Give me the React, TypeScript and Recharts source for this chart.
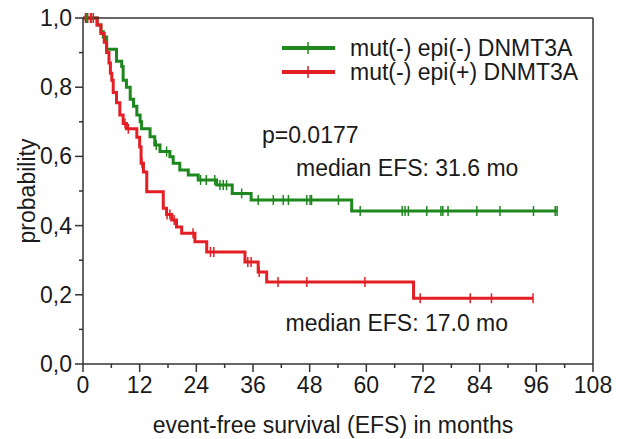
import { LineChart, Line, XAxis, YAxis, ReferenceDot } from 'recharts';

// months, bottom axis (minor ticks every 6, labels every 12)
const xTicks = [0, 6, 12, 18, 24, 30, 36, 42, 48, 54, 60, 66, 72, 78, 84, 90, 96, 102, 108];
const yTicks = [0, 0.1, 0.2, 0.3, 0.4, 0.5, 0.6, 0.7, 0.8, 0.9, 1.0];

// mut(-) epi(-) DNMT3A
const greenEventTimes = [3.0, 3.8, 4.3, 5.0, 7.1, 8.2, 8.5, 9.2, 10.0, 10.7, 11.4, 12.1, 12.4, 14.2, 15.2, 16.3, 18.4, 19.1, 20.5, 22.3, 24.4, 28.3, 31.6, 35.6, 56.9];
const greenSurvival = [0.98, 0.96, 0.945, 0.91, 0.875, 0.86, 0.82, 0.8, 0.765, 0.745, 0.72, 0.7, 0.68, 0.657, 0.633, 0.614, 0.599, 0.58, 0.561, 0.546, 0.532, 0.517, 0.493, 0.474, 0.442];
const greenCensorTimes = [0.8, 1.8, 15.5, 17.7, 24.9, 26.1, 27.9, 29.0, 29.7, 30.4, 33.6, 37.1, 40.3, 42.4, 43.5, 47.4, 48.1, 48.4, 54.1, 58.7, 67.6, 68.2, 68.9, 72.8, 75.8, 76.2, 77.3, 83.4, 88.3, 95.4, 100.0, 100.4];

// mut(-) epi(+) DNMT3A
const redEventTimes = [3.0, 3.8, 4.5, 5.0, 5.5, 5.8, 6.1, 6.4, 7.1, 7.8, 8.5, 9.2, 11.4, 12.0, 12.3, 12.8, 13.5, 17.0, 17.7, 18.8, 19.8, 20.9, 23.7, 26.2, 34.3, 37.1, 38.9, 70.0];
const redSurvival = [0.98, 0.955, 0.93, 0.9, 0.87, 0.84, 0.82, 0.785, 0.755, 0.72, 0.695, 0.68, 0.655, 0.627, 0.58, 0.555, 0.498, 0.45, 0.432, 0.416, 0.396, 0.378, 0.353, 0.324, 0.295, 0.266, 0.237, 0.19];
const redCensorTimes = [0.5, 1.0, 1.6, 2.2, 8.9, 9.6, 12.5, 17.8, 18.4, 19.3, 23.3, 27.0, 27.7, 34.9, 35.6, 37.3, 41.3, 47.4, 59.7, 71.4, 82.0, 86.5, 95.3];

const GREEN = '#1e871e';
const RED = '#e31e24';
const AXIS = '#333';
const TEXT = '#1a1a1a';
const FS = 23;

// build step curve points (event drops + censor marks sitting on the current level)
function buildCurve(times: number[], surv: number[], censors: number[]) {
  const pts: { t: number; s: number; c?: boolean }[] = [{ t: 0, s: 1 }];
  times.forEach((t, i) => pts.push({ t, s: surv[i] }));
  censors.forEach((t) => {
    let s = 1;
    times.forEach((et, i) => {
      if (et <= t) s = surv[i];
    });
    pts.push({ t, s, c: true });
  });
  return pts.sort((a, b) => a.t - b.t);
}

const greenData = buildCurve(greenEventTimes, greenSurvival, greenCensorTimes);
const redData = buildCurve(redEventTimes, redSurvival, redCensorTimes);

const censorDot = (color: string) => (props: any) => {
  const { cx, cy, payload, index } = props;
  if (!payload?.c) return <g key={index} />;
  return <line key={index} x1={cx} x2={cx} y1={cy - 5} y2={cy + 5} stroke={color} strokeWidth={1.5} />;
};

const isMajorX = (v: number) => v % 12 === 0;
const isMajorY = (v: number) => Math.round(v * 10) % 2 === 0;

const BottomTick = (props: any) => {
  const { x, y, payload } = props;
  const major = isMajorX(payload.value);
  return (
    <g>
      <line x1={x} x2={x} y1={y} y2={y + (major ? 8 : 4)} stroke={AXIS} strokeWidth={1.5} />
      {major && (
        <text x={x} y={y + 29} textAnchor="middle" fontSize={FS} fill={TEXT}>
          {payload.value}
        </text>
      )}
    </g>
  );
};

const TopTick = (props: any) => {
  const { x, y, payload } = props;
  const major = isMajorX(payload.value);
  return <line x1={x} x2={x} y1={y} y2={y + (major ? 8 : 4)} stroke={AXIS} strokeWidth={1.5} />;
};

const LeftTick = (props: any) => {
  const { x, y, payload } = props;
  const major = isMajorY(payload.value);
  return (
    <g>
      <line x1={x - (major ? 8 : 4)} x2={x} y1={y} y2={y} stroke={AXIS} strokeWidth={1.5} />
      {major && (
        <text x={x - 11} y={y + 8} textAnchor="end" fontSize={FS} fill={TEXT}>
          {payload.value.toFixed(1).replace('.', ',')}
        </text>
      )}
    </g>
  );
};

const RightTick = (props: any) => {
  const { x, y, payload } = props;
  const major = isMajorY(payload.value);
  return <line x1={x - (major ? 8 : 4)} x2={x} y1={y} y2={y} stroke={AXIS} strokeWidth={1.5} />;
};

const legendItems = [
  { name: 'mut(-) epi(-) DNMT3A', color: GREEN },
  { name: 'mut(-) epi(+) DNMT3A', color: RED },
];

export default function App() {
  return (
    <div
      style={{
        position: 'absolute',
        left: 0,
        top: 0,
        width: 625,
        height: 439,
        background: '#fff',
        fontFamily: '"Liberation Sans", Arial, sans-serif',
      }}
    >
      <LineChart width={625} height={439} margin={{ top: 0, right: 0, bottom: 0, left: 0 }}>
        <XAxis
          dataKey="t"
          type="number"
          domain={[0, 108]}
          ticks={xTicks}
          interval={0}
          height={75}
          tickSize={0}
          tickMargin={0}
          tick={BottomTick}
          axisLine={{ stroke: AXIS, strokeWidth: 1.5 }}
          label={{ value: 'event-free survival (EFS) in months', position: 'insideBottom', offset: 6, fontSize: FS, fill: TEXT, dx: -5 }}
        />
        <XAxis
          xAxisId="top"
          orientation="top"
          type="number"
          domain={[0, 108]}
          ticks={xTicks}
          interval={0}
          height={18}
          tickSize={0}
          tickMargin={0}
          tick={TopTick}
          axisLine={{ stroke: AXIS, strokeWidth: 1.5 }}
        />
        <YAxis
          type="number"
          domain={[0, 1]}
          ticks={yTicks}
          interval={0}
          width={83}
          tickSize={0}
          tickMargin={0}
          tick={LeftTick}
          axisLine={{ stroke: AXIS, strokeWidth: 1.5 }}
          label={{ value: 'probability', angle: -90, position: 'insideLeft', offset: 27, fontSize: FS, fill: TEXT, style: { textAnchor: 'middle' } }}
        />
        <YAxis
          yAxisId="right"
          orientation="right"
          type="number"
          domain={[0, 1]}
          ticks={yTicks}
          interval={0}
          width={32}
          tickSize={0}
          tickMargin={0}
          tick={RightTick}
          axisLine={{ stroke: AXIS, strokeWidth: 1.5 }}
        />
        <Line
          data={greenData}
          dataKey="s"
          type="stepAfter"
          stroke={GREEN}
          strokeWidth={3}
          dot={censorDot(GREEN)}
          activeDot={false}
          isAnimationActive={false}
        />
        <Line
          data={redData}
          dataKey="s"
          type="stepAfter"
          stroke={RED}
          strokeWidth={3}
          dot={censorDot(RED)}
          activeDot={false}
          isAnimationActive={false}
        />
        <ReferenceDot x={37.9} y={0.662} r={0} stroke="none" label={{ value: 'p=0.0177', position: 'right', offset: 0, fontSize: FS, fill: TEXT }} />
        <ReferenceDot x={45.1} y={0.566} r={0} stroke="none" label={{ value: 'median EFS: 31.6 mo', position: 'right', offset: 0, fontSize: FS, fill: TEXT }} />
        <ReferenceDot x={42.9} y={0.118} r={0} stroke="none" label={{ value: 'median EFS: 17.0 mo', position: 'right', offset: 0, fontSize: FS, fill: TEXT }} />
      </LineChart>
      <svg
        width={625}
        height={439}
        style={{ position: 'absolute', left: 0, top: 0, pointerEvents: 'none' }}
      >
        {legendItems.map((item, i) => (
          <g key={item.name}>
            <line x1={282} x2={335} y1={48 + i * 24} y2={48 + i * 24} stroke={item.color} strokeWidth={4} />
            <line x1={308} x2={308} y1={42 + i * 24} y2={54 + i * 24} stroke={item.color} strokeWidth={1.5} />
            <text x={350} y={56 + i * 24} fontSize={FS} fill={TEXT}>
              {item.name}
            </text>
          </g>
        ))}
      </svg>
    </div>
  );
}
